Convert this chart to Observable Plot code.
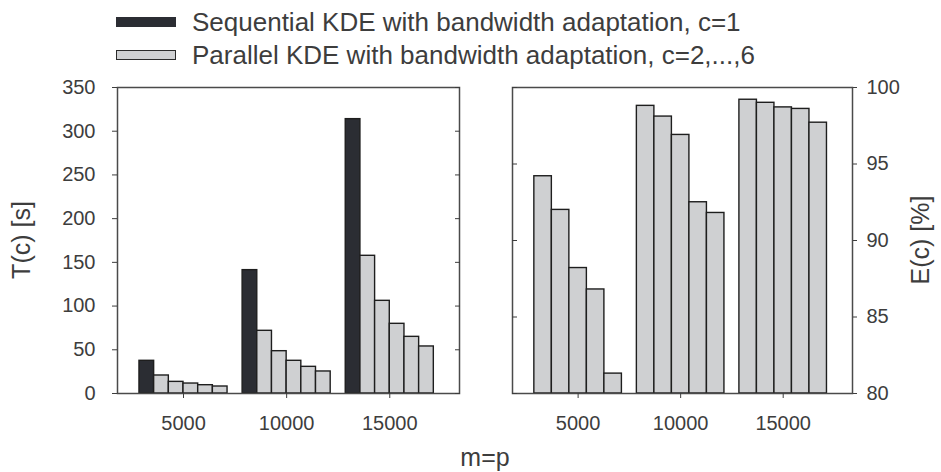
<!DOCTYPE html>
<html>
<head>
<meta charset="utf-8">
<script src="https://cdn.jsdelivr.net/npm/d3@7"></script>
<script src="https://cdn.jsdelivr.net/npm/@observablehq/plot@0.6"></script>
<style>
  html, body { margin: 0; padding: 0; background: #fff; }
  #figure { position: relative; width: 941px; height: 472px; font-family: "Liberation Sans", Arial, sans-serif; color: #3d3d3d; }
  .panel { position: absolute; top: 72px; }
  .legend { position: absolute; left: 116px; top: 0; }
  .legend-row { position: absolute; left: 0; display: flex; align-items: center; white-space: nowrap; font-size: 26px; line-height: 30px; }
  .legend-row .sw { width: 60px; height: 10px; box-sizing: border-box; margin-right: 16px; }
  .title { position: absolute; width: 0; height: 0; }
  .title span { position: absolute; transform: translate(-50%, -50%) rotate(-90deg); white-space: nowrap; font-size: 25px; }
  .xtitle { position: absolute; left: 485px; top: 457px; transform: translate(-50%, -50%); font-size: 25px; white-space: nowrap; }
</style>
</head>
<body>
<div id="figure"></div>
<script>
// Problem sizes m = p
const sizes = [5000, 10000, 15000];

// Runtime T(c) in seconds: sequential (c = 1) and parallel (c = 2..6)
const runtimeSeq = [37.4, 141.1, 313.8];
const runtimePar = [
  [20.6, 13.3, 11.4, 9.5, 8.0],
  [71.7, 48.4, 37.4, 30.5, 25.2],
  [157.5, 106.0, 79.7, 64.8, 53.8]
];

// Parallel efficiency E(c) in percent for c = 2..6
const efficiency = [
  [94.2, 92.0, 88.2, 86.8, 81.3],
  [98.8, 98.1, 96.9, 92.5, 91.8],
  [99.2, 99.0, 98.7, 98.6, 97.7]
];

// Tick labels
const xTicks = [5000, 10000, 15000];
const timeTicks = [0, 50, 100, 150, 200, 250, 300, 350];
const effTicks = [80, 85, 90, 95, 100];

// Legend entries
const seriesNames = [
  "Sequential KDE with bandwidth adaptation, c=1",
  "Parallel KDE with bandwidth adaptation, c=2,...,6"
];
const seriesFill = ["#2b2d33", "#cfd0d2"];

// Shared horizontal extent of both panels, and the width of a group of bars
const xDomain = [1800, 18380];
const groupSpan = 0.854 * 5000;

const timeRows = sizes.flatMap((m, i) => [
  {m, c: 1, t: runtimeSeq[i], series: seriesNames[0]},
  ...runtimePar[i].map((t, j) => ({m, c: j + 2, t, series: seriesNames[1]}))
]);
const effRows = sizes.flatMap((m, i) =>
  efficiency[i].map((e, j) => ({m, c: j + 2, e, series: seriesNames[1]}))
);

// Left edge of a bar inside its group of n bars starting at core count c0
const barLeft = (d, c0, n) => d.m - groupSpan / 2 + (d.c - c0) * groupSpan / n;
const barRight = (d, c0, n) => barLeft(d, c0, n) + groupSpan / n;

const baseStyle = {
  fontFamily: "Liberation Sans, Arial, sans-serif",
  fontSize: "20px",
  color: "#3d3d3d",
  background: "transparent",
  overflow: "visible"
};
const barStroke = {stroke: "#1e1e1e", strokeWidth: 1.4};
const frameStroke = {stroke: "#4a4a4a", strokeWidth: 1.5};
const colorScale = {type: "ordinal", domain: seriesNames, range: seriesFill};

const timePlot = Plot.plot({
  width: 480, height: 366,
  marginTop: 15, marginBottom: 45, marginLeft: 117, marginRight: 21,
  style: baseStyle,
  x: {domain: xDomain},
  y: {domain: [0, 350]},
  color: colorScale,
  marks: [
    Plot.rectY(timeRows, {
      x1: d => barLeft(d, 1, 6), x2: d => barRight(d, 1, 6),
      y1: d => 0, y2: "t", fill: "series", ...barStroke
    }),
    Plot.frame(frameStroke),
    Plot.axisY(timeTicks, {anchor: "left", tickSize: 5, tickPadding: 17, label: null}),
    Plot.axisY(timeTicks, {anchor: "right", tickSize: -5, tickFormat: () => "", label: null}),
    Plot.axisX(xTicks, {anchor: "bottom", tickSize: 5, tickPadding: 17, label: null, tickFormat: d => String(d)})
  ]
});

const effPlot = Plot.plot({
  width: 461, height: 366,
  marginTop: 15, marginBottom: 45, marginLeft: 32, marginRight: 89,
  style: baseStyle,
  x: {domain: xDomain},
  y: {domain: [80, 100]},
  color: colorScale,
  marks: [
    Plot.rectY(effRows, {
      x1: d => barLeft(d, 2, 5), x2: d => barRight(d, 2, 5),
      y1: d => 80, y2: "e", fill: "series", ...barStroke
    }),
    Plot.frame(frameStroke),
    Plot.axisY(effTicks, {anchor: "right", tickSize: 4, tickPadding: 10, label: null}),
    Plot.axisY(effTicks, {anchor: "left", tickSize: -5, tickFormat: () => "", label: null}),
    Plot.axisX(xTicks, {anchor: "bottom", tickSize: 5, tickPadding: 17, label: null, tickFormat: d => String(d)})
  ]
});

const fig = d3.select("#figure");

// Legend
const legend = fig.append("div").attr("class", "legend");
seriesNames.forEach((name, i) => {
  const row = legend.append("div").attr("class", "legend-row").style("top", `${7 + i * 32.5}px`);
  row.append("div").attr("class", "sw")
    .style("background", seriesFill[i])
    .style("border", `1.5px solid ${i === 0 ? seriesFill[0] : "#2a2a2a"}`);
  row.append("span").text(name);
});

// Panels
fig.append("div").attr("class", "panel").style("left", "0px").node().appendChild(timePlot);
fig.append("div").attr("class", "panel").style("left", "480px").node().appendChild(effPlot);

// Axis titles
fig.append("div").attr("class", "title").style("left", "21px").style("top", "240px")
  .append("span").text("T(c) [s]");
fig.append("div").attr("class", "title").style("left", "920px").style("top", "240px")
  .append("span").text("E(c) [%]");
fig.append("div").attr("class", "xtitle").text("m=p");
</script>
</body>
</html>
